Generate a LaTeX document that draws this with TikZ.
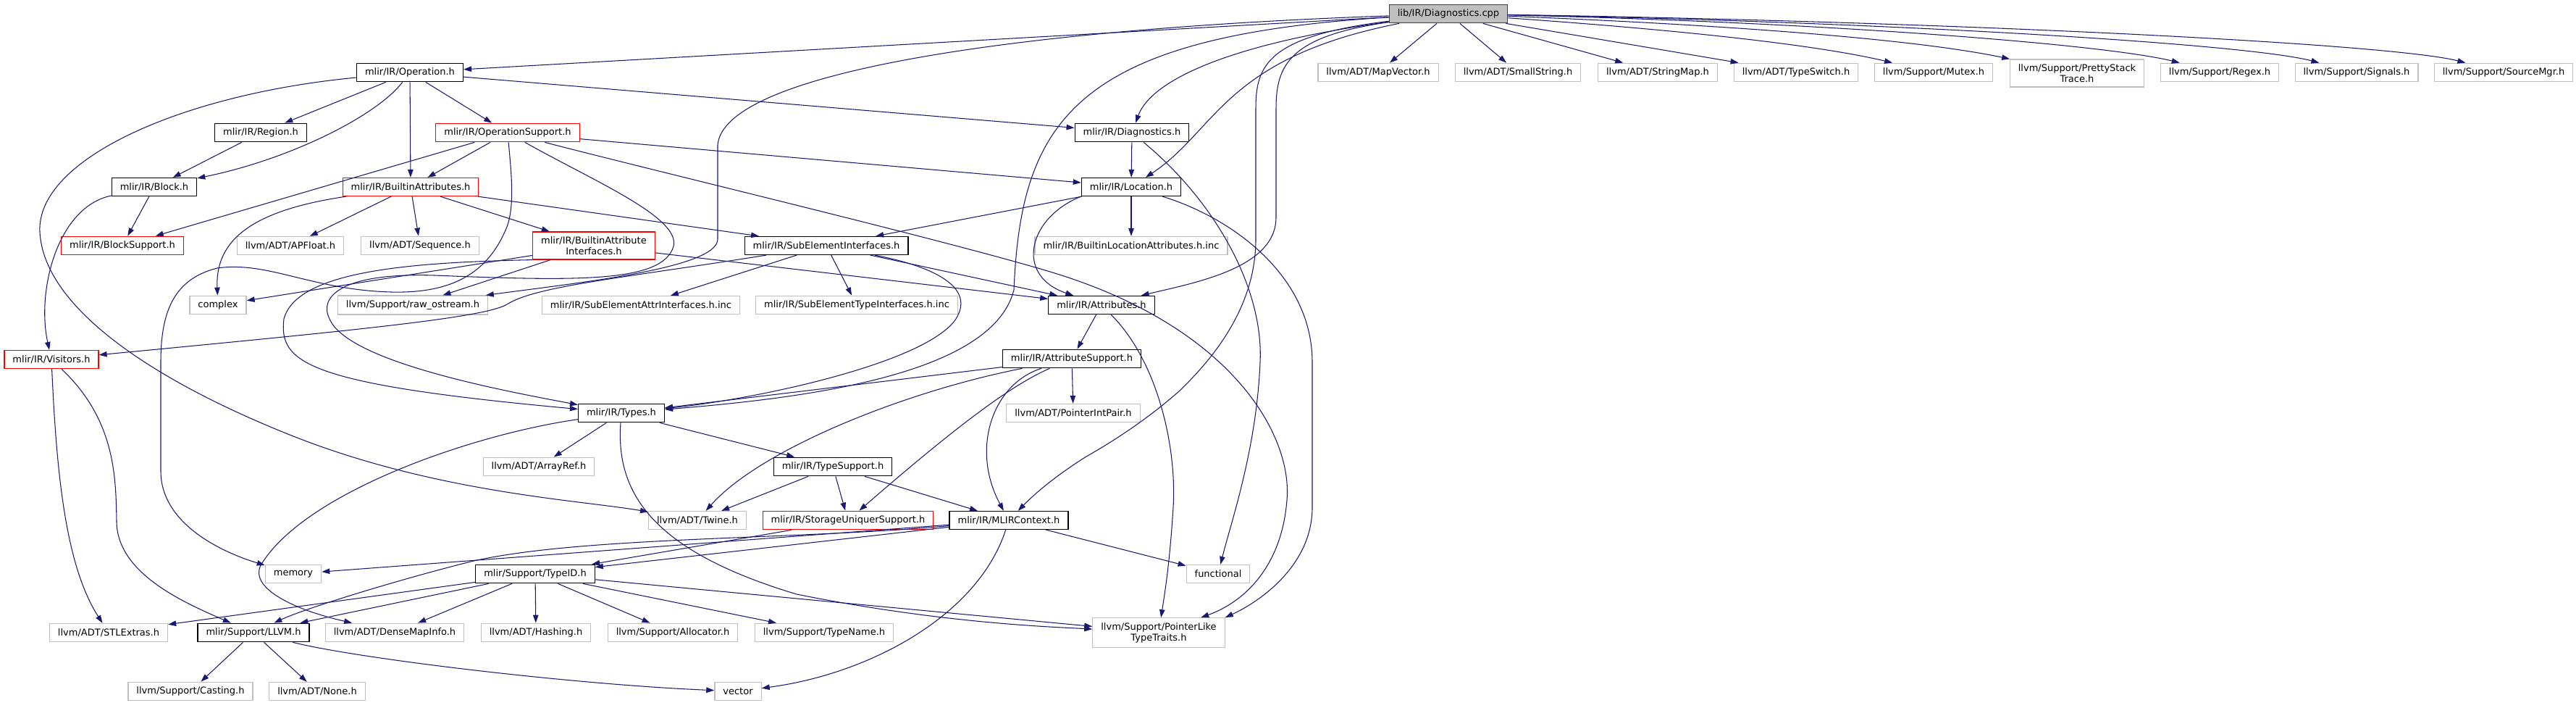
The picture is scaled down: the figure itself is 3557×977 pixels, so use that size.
\documentclass[tikz,border=0pt]{standalone}
\usepackage{fontspec}
\usepackage{xcolor}
\usepackage{tikz}
\usetikzlibrary{arrows.meta}
\newfontfamily\graphfont{DejaVu Sans}
\definecolor{edgeblue}{HTML}{191970}
\definecolor{boxgray}{HTML}{BFBFBF}
\tikzset{
  filebox/.style={draw=black,fill=white,line width=0.7pt,align=center,inner xsep=0.23cm,
    inner ysep=0.13cm,minimum height=0.5cm,font=\graphfont\fontsize{7.4}{8.5}\selectfont},
  partialbox/.style={filebox,draw=red},
  externbox/.style={filebox,draw=boxgray},
  rootbox/.style={filebox,fill=boxgray,draw=black!75},
  includearrow/.style={-{Triangle[length=0.22cm,width=0.15cm]},line width=0.6pt,color=edgeblue}
}
\begin{document}
\begin{tikzpicture}[x=0.02cm,y=-0.02cm]
  \useasboundingbox (0,0) rectangle (3557,977);
  \node[rootbox] (diagcpp) at (2000,19) {lib/IR/Diagnostics.cpp};
  \node[filebox] (operation) at (566,100) {mlir/IR/Operation.h};
  \node[externbox] (mapvector) at (1903,100) {llvm/ADT/MapVector.h};
  \node[externbox] (smallstring) at (2096,100) {llvm/ADT/SmallString.h};
  \node[externbox] (stringmap) at (2289,100) {llvm/ADT/StringMap.h};
  \node[externbox] (typeswitch) at (2480,100) {llvm/ADT/TypeSwitch.h};
  \node[externbox] (mutex) at (2670,100) {llvm/Support/Mutex.h};
  \node[externbox] (prettystack) at (2868,101) {llvm/Support/PrettyStack\\Trace.h};
  \node[externbox] (regex) at (3065,100) {llvm/Support/Regex.h};
  \node[externbox] (signals) at (3254,100) {llvm/Support/Signals.h};
  \node[externbox] (sourcemgr) at (3457,100) {llvm/Support/SourceMgr.h};
  \node[filebox] (region) at (360,183) {mlir/IR/Region.h};
  \node[partialbox] (opsupport) at (701,183) {mlir/IR/OperationSupport.h};
  \node[filebox] (diagh) at (1563,183) {mlir/IR/Diagnostics.h};
  \node[filebox] (block) at (213,258) {mlir/IR/Block.h};
  \node[partialbox] (builtinattr) at (567,258) {mlir/IR/BuiltinAttributes.h};
  \node[filebox] (location) at (1562,258) {mlir/IR/Location.h};
  \node[partialbox] (blocksupport) at (169,339) {mlir/IR/BlockSupport.h};
  \node[externbox] (apfloat) at (401,339) {llvm/ADT/APFloat.h};
  \node[externbox] (sequence) at (580,339) {llvm/ADT/Sequence.h};
  \node[partialbox] (attrinterfaces) at (820,339) {mlir/IR/BuiltinAttribute\\Interfaces.h};
  \node[filebox] (subelement) at (1141,339) {mlir/IR/SubElementInterfaces.h};
  \node[externbox] (locinc) at (1562,339) {mlir/IR/BuiltinLocationAttributes.h.inc};
  \node[externbox] (complex) at (301,421) {complex};
  \node[externbox] (rawostream) at (570,421) {llvm/Support/raw\_ostream.h};
  \node[externbox] (subattrinc) at (885,421) {mlir/IR/SubElementAttrInterfaces.h.inc};
  \node[externbox] (subtypeinc) at (1183,421) {mlir/IR/SubElementTypeInterfaces.h.inc};
  \node[filebox] (attributes) at (1521,421) {mlir/IR/Attributes.h};
  \node[partialbox] (visitors) at (71,496) {mlir/IR/Visitors.h};
  \node[filebox] (attrsupport) at (1480,495) {mlir/IR/AttributeSupport.h};
  \node[filebox] (types) at (858,570) {mlir/IR/Types.h};
  \node[externbox] (ptrintpair) at (1482,570) {llvm/ADT/PointerIntPair.h};
  \node[externbox] (arrayref) at (744,644) {llvm/ADT/ArrayRef.h};
  \node[filebox] (typesupport) at (1150,644) {mlir/IR/TypeSupport.h};
  \node[externbox] (twine) at (963,718) {llvm/ADT/Twine.h};
  \node[partialbox] (uniquer) at (1171,718) {mlir/IR/StorageUniquerSupport.h};
  \node[filebox] (context) at (1393,718) {mlir/IR/MLIRContext.h};
  \node[externbox] (memory) at (405,792) {memory};
  \node[filebox] (typeid) at (739,792) {mlir/Support/TypeID.h};
  \node[externbox] (functional) at (1682,792) {functional};
  \node[externbox] (stlextras) at (150,873) {llvm/ADT/STLExtras.h};
  \node[filebox] (llvmh) at (350,873) {mlir/Support/LLVM.h};
  \node[externbox] (densemap) at (545,873) {llvm/ADT/DenseMapInfo.h};
  \node[externbox] (hashing) at (740,873) {llvm/ADT/Hashing.h};
  \node[externbox] (allocator) at (929,873) {llvm/Support/Allocator.h};
  \node[externbox] (typename) at (1138,873) {llvm/Support/TypeName.h};
  \node[externbox] (pointerlike) at (1600,873) {llvm/Support/PointerLike\\TypeTraits.h};
  \node[externbox] (casting) at (263,954) {llvm/Support/Casting.h};
  \node[externbox] (nonehdr) at (438,954) {llvm/ADT/None.h};
  \node[externbox] (vector) at (1019,954) {vector};
  \draw[includearrow] (diagcpp) -- (operation);
  \draw[includearrow] (diagcpp) .. controls (1700,60) and (1590,110) .. (diagh);
  \draw[includearrow] (diagcpp) .. controls (1690,80) and (1680,180) .. (location);
  \draw[includearrow] (diagcpp) .. controls (1780,50) and (1762,90) .. (1762,150) -- (1762,300) .. controls (1762,370) and (1650,390) .. (attributes);
  \draw[includearrow] (diagcpp) .. controls (1750,50) and (1734,90) .. (1734,150) -- (1734,330) .. controls (1734,420) and (1680,490) .. (1628,540) .. controls (1605,560) and (1565,593) .. (1500,630) .. controls (1460,655) and (1430,680) .. (context);
  \draw[includearrow] (diagcpp) .. controls (1480,50) and (1410,170) .. (1400,400) .. controls (1370,520) and (1100,550) .. (types);
  \draw[includearrow] (diagcpp) .. controls (1400,40) and (1000,100) .. (991,200) -- (991,330) .. controls (991,370) and (800,390) .. (rawostream);
  \draw[includearrow] (diagcpp) -- (mapvector);
  \draw[includearrow] (diagcpp) -- (smallstring);
  \draw[includearrow] (diagcpp) -- (stringmap);
  \draw[includearrow] (diagcpp) -- (typeswitch);
  \draw[includearrow] (diagcpp) .. controls (2300,40) and (2500,60) .. (mutex);
  \draw[includearrow] (diagcpp) .. controls (2400,35) and (2650,55) .. (prettystack);
  \draw[includearrow] (diagcpp) .. controls (2500,30) and (2900,60) .. (regex);
  \draw[includearrow] (diagcpp) .. controls (2600,30) and (3100,60) .. (signals);
  \draw[includearrow] (diagcpp) .. controls (2700,30) and (3300,60) .. (sourcemgr);
  \draw[includearrow] (operation) -- (region);
  \draw[includearrow] (operation) .. controls (520,160) and (400,220) .. (block);
  \draw[includearrow] (operation) -- (builtinattr);
  \draw[includearrow] (operation) -- (opsupport);
  \draw[includearrow] (operation) -- (diagh);
  \draw[includearrow] (operation) .. controls (250,130) and (50,220) .. (55,320) .. controls (60,420) and (200,520) .. (400,600) .. controls (600,680) and (800,690) .. (twine);
  \draw[includearrow] (region) -- (block);
  \draw[includearrow] (block) -- (blocksupport);
  \draw[includearrow] (block) .. controls (80,285) and (50,400) .. (visitors);
  \draw[includearrow] (opsupport) -- (blocksupport);
  \draw[includearrow] (opsupport) -- (builtinattr);
  \draw[includearrow] (opsupport) -- (location);
  \draw[includearrow] (opsupport) .. controls (706,240) and (712,290) .. (697,320) .. controls (670,380) and (620,405) .. (540,403) .. controls (430,400) and (370,360) .. (300,370) .. controls (240,385) and (222,430) .. (222,500) -- (222,650) .. controls (222,720) and (300,760) .. (memory);
  \draw[includearrow] (opsupport) .. controls (820,250) and (940,300) .. (930,340) .. controls (915,390) and (800,388) .. (600,380) .. controls (470,376) and (440,410) .. (455,440) .. controls (480,500) and (700,540) .. (types);
  \draw[includearrow] (opsupport) .. controls (900,235) and (1300,330) .. (1450,375) .. controls (1700,450) and (1785,600) .. (1777,690) .. controls (1770,780) and (1720,830) .. (pointerlike);
  \draw[includearrow] (builtinattr) .. controls (350,290) and (297,330) .. (complex);
  \draw[includearrow] (builtinattr) -- (apfloat);
  \draw[includearrow] (builtinattr) -- (sequence);
  \draw[includearrow] (builtinattr) -- (attrinterfaces);
  \draw[includearrow] (builtinattr) -- (subelement);
  \draw[includearrow] (attrinterfaces) -- (complex);
  \draw[includearrow] (attrinterfaces) -- (rawostream);
  \draw[includearrow] (attrinterfaces.south west) .. controls (560,362) and (410,375) .. (392,440) .. controls (385,500) and (420,530) .. (types);
  \draw[includearrow] (attrinterfaces) -- (attributes);
  \draw[includearrow] (subelement) .. controls (850,385) and (740,395) .. (700,420) .. controls (670,438) and (500,455) .. (visitors);
  \draw[includearrow] (subelement) -- (subattrinc);
  \draw[includearrow] (subelement) -- (subtypeinc);
  \draw[includearrow] (subelement) -- (attributes);
  \draw[includearrow] (subelement) .. controls (1300,370) and (1345,400) .. (1320,440) .. controls (1280,500) and (1050,550) .. (types);
  \draw[includearrow] (location) -- (subelement);
  \draw[includearrow] (location) -- (locinc);
  \draw[includearrow] (location.south west) .. controls (1420,300) and (1400,380) .. (attributes);
  \draw[includearrow] (location) .. controls (1700,300) and (1812,380) .. (1812,500) -- (1812,700) .. controls (1812,780) and (1740,830) .. (pointerlike.north east);
  \draw[includearrow] (diagh) -- (location);
  \draw[includearrow] (diagh) .. controls (1680,280) and (1745,400) .. (1740,500) .. controls (1735,620) and (1700,720) .. (functional);
  \draw[includearrow] (attributes) -- (attrsupport);
  \draw[includearrow] (attributes) .. controls (1600,500) and (1625,620) .. (1620,700) .. controls (1615,780) and (1608,820) .. (pointerlike);
  \draw[includearrow] (attrsupport) -- (types);
  \draw[includearrow] (attrsupport) .. controls (1250,540) and (1050,620) .. (twine);
  \draw[includearrow] (attrsupport) .. controls (1400,530) and (1330,580) .. (uniquer);
  \draw[includearrow] (attrsupport) .. controls (1370,530) and (1340,620) .. (context);
  \draw[includearrow] (attrsupport) -- (ptrintpair);
  \draw[includearrow] (types) -- (arrayref);
  \draw[includearrow] (types) -- (typesupport);
  \draw[includearrow] (types) .. controls (650,600) and (420,680) .. (360,780) .. controls (345,810) and (400,840) .. (densemap);
  \draw[includearrow] (types) .. controls (850,680) and (900,760) .. (1100,820) .. controls (1300,860) and (1450,865) .. (pointerlike);
  \draw[includearrow] (typesupport) -- (twine);
  \draw[includearrow] (typesupport) -- (uniquer);
  \draw[includearrow] (typesupport) -- (context);
  \draw[includearrow] (uniquer) -- (typeid);
  \draw[includearrow] (context) -- (memory);
  \draw[includearrow] (context) -- (typeid);
  \draw[includearrow] (context) .. controls (1100,745) and (800,740) .. (650,775) .. controls (550,800) and (420,840) .. (llvmh);
  \draw[includearrow] (context) -- (functional);
  \draw[includearrow] (context) .. controls (1350,850) and (1200,930) .. (vector);
  \draw[includearrow] (typeid) -- (stlextras);
  \draw[includearrow] (typeid) -- (llvmh);
  \draw[includearrow] (typeid) -- (densemap);
  \draw[includearrow] (typeid) -- (hashing);
  \draw[includearrow] (typeid) -- (allocator);
  \draw[includearrow] (typeid) -- (typename);
  \draw[includearrow] (typeid) -- (pointerlike);
  \draw[includearrow] (llvmh) -- (casting);
  \draw[includearrow] (llvmh) -- (nonehdr);
  \draw[includearrow] (llvmh) .. controls (500,910) and (800,945) .. (vector);
  \draw[includearrow] (visitors) .. controls (78,650) and (90,780) .. (stlextras);
  \draw[includearrow] (visitors) .. controls (160,580) and (160,660) .. (161,720) .. controls (162,790) and (250,830) .. (llvmh);
\end{tikzpicture}
\end{document}
